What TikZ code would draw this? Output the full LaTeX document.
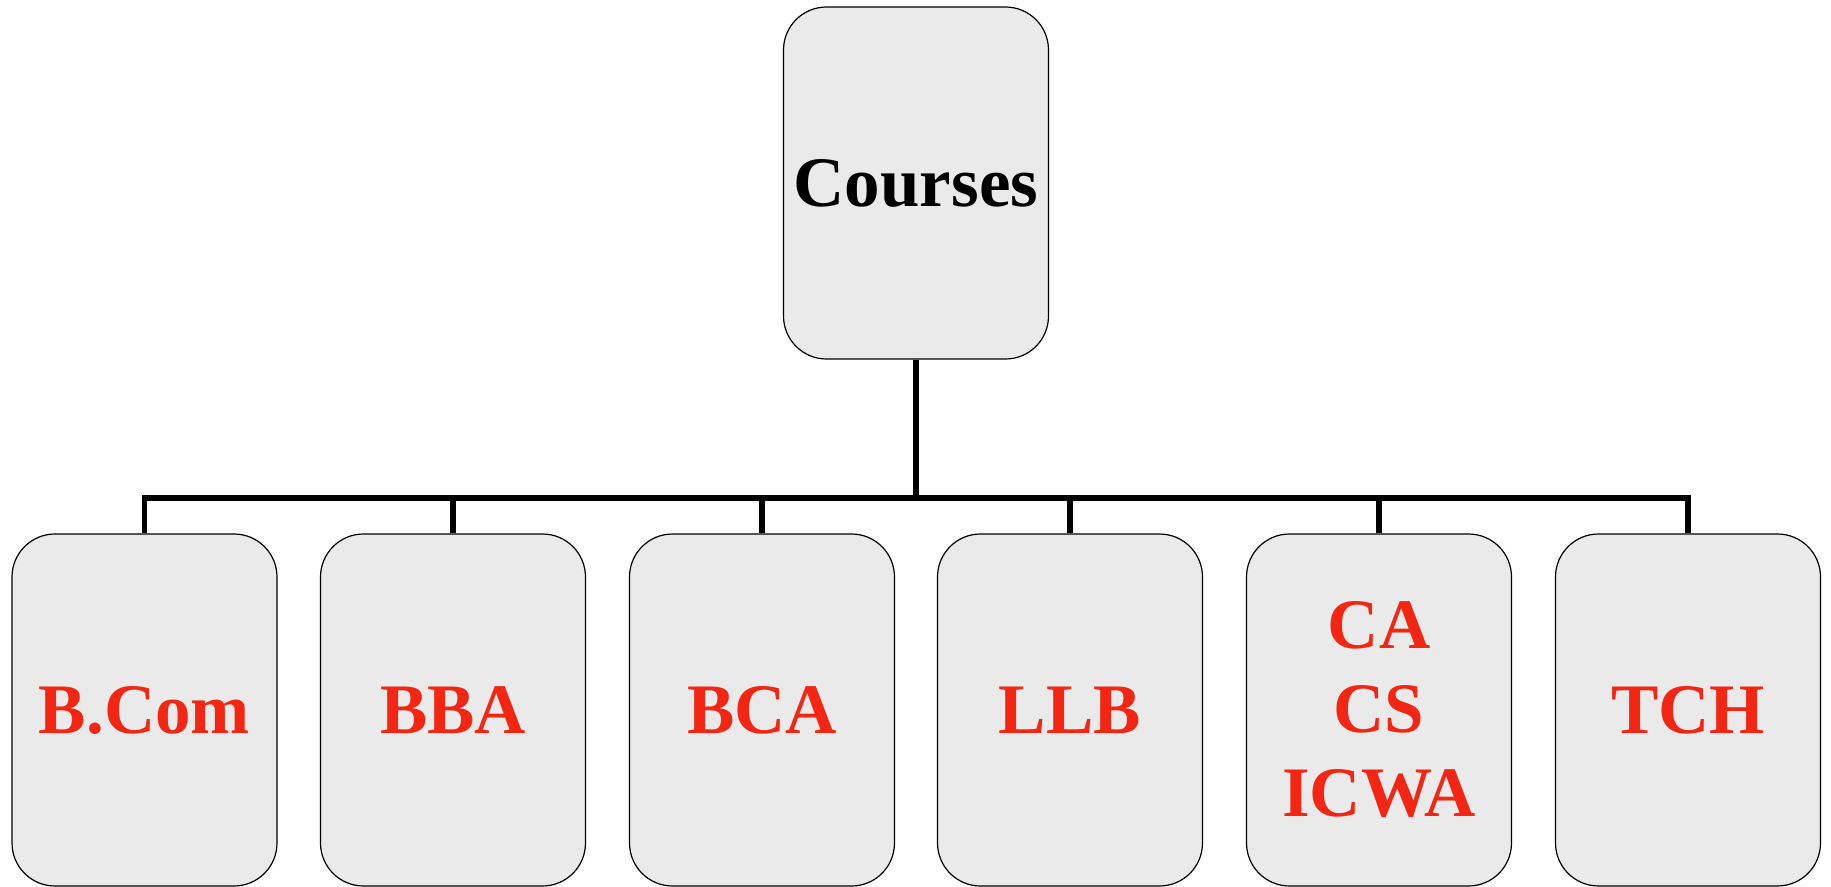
\documentclass[tikz,border=0pt]{standalone}
\usepackage{fontspec}
\setmainfont{Liberation Serif}
\usepackage{xcolor}
\definecolor{custom_red}{HTML}{F22613}
\definecolor{custom_gray}{HTML}{EAEAEA}

\begin{document}
\begin{tikzpicture}[x=0.5pt, y=-0.5pt]
            % Styles
            \tikzstyle{root} = [rectangle, rounded corners=21.5pt, draw=black, line width=0.6pt, fill=custom_gray, minimum width=132.5pt, minimum height=176pt, align=center, font=\bfseries\fontsize{35.5}{42}\selectfont]
            \tikzstyle{course} = [root, text=custom_red]
            \tikzstyle{link} = [draw=black, line width=2.8pt]

            \useasboundingbox (0,0) rectangle (1831,887);

            % Nodes: Root
            \node[root] (C) at (916,183) {Courses};

            % Nodes: Courses
            \node[course] (BCOM) at (144.5,710) {B.Com};
            \node[course] (BBA) at (453,710) {BBA};
            \node[course] (BCA) at (762,710) {BCA};
            \node[course] (LLB) at (1070,710) {LLB};
            \node[course] (CA) at (1379,710) {CA\\CS\\ICWA};
            \node[course] (TCH) at (1688,710) {TCH};

            % Edges: Courses -> each course
            \coordinate (bar) at (916,498);
            \draw[link] (C.south) -- (bar);
            \foreach \n in {BCOM, BBA, BCA, LLB, CA, TCH}
                \draw[link] (bar) -| (\n.north);
        \end{tikzpicture}
\end{document}
